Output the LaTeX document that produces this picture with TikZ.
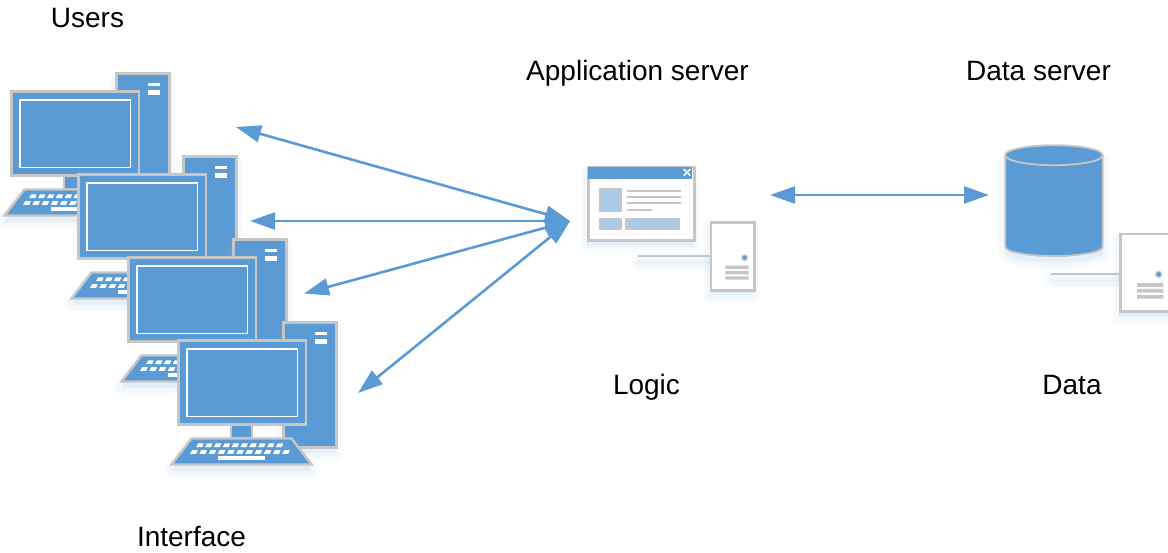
\documentclass[tikz,border=0pt]{standalone}
\usepackage{fontspec}
\setmainfont{Liberation Sans}
\usetikzlibrary{arrows.meta}
\definecolor{mblue}{HTML}{5B9BD5}
\definecolor{lblue}{HTML}{ABCAE9}
\definecolor{mgray}{HTML}{C6C6C6}
\definecolor{sblue}{HTML}{9DC3E6}
\newcommand{\softshade}[1]{%
  \foreach \w in {15,12,9,6,3}{\path[draw=sblue,fill=sblue,opacity=.035,line width=\w pt,line join=round,yshift=-6pt] #1;}}
\tikzset{
  x=1pt,y=-1pt,
  label text/.style={font=\fontsize{28}{32}\selectfont,anchor=base,inner sep=0pt,text=black},
  blue part/.style={fill=mblue,draw=mgray,line width=2.4pt},
  white part/.style={fill=white,draw=mgray,line width=2.4pt},
  light part/.style={fill=lblue,draw=mgray,line width=1.8pt},
  gray rule/.style={draw=mgray,line width=1.8pt},
  key/.style={fill=white},
  link/.style={draw=mblue,line width=2.6pt,{Triangle[length=25pt,width=17pt]}-{Triangle[length=25pt,width=17pt]}},
  computer/.pic={
    \softshade{(105.6,-17.4) rectangle (158.4,107.4)}
    \softshade{(-6.5,124.5) -- (13.5,98.5) -- (113.5,98.5) -- (133.5,124.5) -- cycle}
    \path[blue part] (105.6,-17.4) rectangle (158.4,107.4);
    \fill[white] (137,-8.5) rectangle (149,-4.7);
    \fill[white] (137,-0.7) rectangle (149,3.7);
    \path[blue part] (52.8,85) rectangle (73.9,98);
    \path[blue part] (0.6,0.6) rectangle (127.9,84.4);
    \draw[white,line width=1.6pt] (9.1,8.8) rectangle (119.5,76.5);
    \path[blue part] (-6.5,124.5) -- (13.5,98.5) -- (113.5,98.5) -- (133.5,124.5) -- cycle;
    \foreach \i in {0,...,9}{
      \fill[key] ({20.2+\i*8.85},103.3) -- ({25.6+\i*8.85},103.3) -- ({24.2+\i*8.85},107) -- ({18.2+\i*8.85},107) -- cycle;}
    \foreach \i in {0,...,10}{
      \fill[key] ({14.2+\i*9.2},110) -- ({19.8+\i*9.2},110) -- ({18.2+\i*9.2},113.8) -- ({12.2+\i*9.2},113.8) -- cycle;}
    \fill[key] (39.7,116.4) rectangle (87,120.3);
  }
}
\begin{document}
\begin{tikzpicture}
\useasboundingbox (0,0) rectangle (1168,552);
\clip (0,0) rectangle (1168,552);

% computers, back to front
\pic (pc1) at (11,91) {computer};
\pic (pc2) at (78,174) {computer};
\pic (pc3) at (128,257) {computer};
\pic (pc4) at (178,340) {computer};

% application window
\softshade{(587.3,165.6) rectangle (693.4,239.4)}
\node[white part,minimum width=106.1pt,minimum height=73.8pt,inner sep=0pt,anchor=north west] (win) at (587.3,165.6) {};
\path[fill=mblue] (588.4,166.7) rectangle (692.3,179);
\draw[white,line width=1.4pt] (683.7,169) -- (690.3,175.6) (690.3,169) -- (683.7,175.6);
\path[light part] (600.2,188.6) rectangle (621.1,211.4);
\path[light part] (600.2,219.2) rectangle (621.1,229.1);
\path[light part] (626.2,219.2) rectangle (679.1,229.1);
\draw[gray rule] (627,190.7) -- (681,190.7) (627,197) -- (681,197) (627,203.3) -- (681,203.3) (627,210) -- (651.7,210);

% application server
\softshade{(709.6,221.3) rectangle (753.4,289.4)}
\softshade{(638.3,255.5) rectangle (709,256.5)}
\node[white part,minimum width=43.8pt,minimum height=68.1pt,inner sep=0pt,anchor=north west] (srvA) at (709.6,221.3) {};
\coordinate (srvAend) at (638.3,256);
\draw[gray rule] (srvAend) -- (srvAend -| srvA.west);
\fill[mgray] (744.7,257.7) circle (3.4pt);
\fill[mblue] (744.7,257.7) circle (2pt);
\fill[mgray] (725.3,265.7) rectangle (748.7,269) (725.3,271) rectangle (748.7,274.3) (725.3,276.4) rectangle (748.7,279.7);

% database cylinder
\softshade{(1005.2,155.2) -- (1005.2,246.7) arc[start angle=180,delta angle=-180,x radius=48.8pt,y radius=-9.4pt] -- (1102.8,155.2) -- cycle}
\path[blue part,line width=1.8pt] (1005.2,155.2) -- (1005.2,246.7) arc[start angle=180,delta angle=-180,x radius=48.8pt,y radius=-9.4pt] -- (1102.8,155.2) -- cycle;
\path[blue part,line width=1.8pt] (1054,155.2) ellipse[x radius=48.8pt,y radius=10pt];

% data server
\softshade{(1119.3,232.9) rectangle (1175,310.1)}
\softshade{(1051.3,273.8) rectangle (1118.7,274.8)}
\node[white part,minimum width=56pt,minimum height=77.2pt,inner sep=0pt,anchor=north west] (srvB) at (1119.3,232.9) {};
\coordinate (srvBend) at (1051.3,274.3);
\draw[gray rule] (srvBend) -- (srvBend -| srvB.west);
\fill[mgray] (1158.7,274.3) circle (3.6pt);
\fill[mblue] (1158.7,274.3) circle (2.2pt);
\fill[mgray] (1137,283.2) rectangle (1163.3,286.8) (1137,288.9) rectangle (1163.3,292.5) (1137,294.9) rectangle (1163.3,298.5);

% connectors
\coordinate (hub) at (570,221);
\coordinate (u1) at (236,127);
\coordinate (u2) at (250,221);
\coordinate (u3) at (304,293.5);
\coordinate (u4) at (358,393);
\coordinate (appR) at (770,195);
\coordinate (dataL) at (989,195);
\draw[link] (hub) -- (u1);
\draw[link] (hub) -- (u2);
\draw[link] (hub) -- (u3);
\draw[link] (hub) -- (u4);
\draw[link] (appR) -- (dataL);

% labels
\node[label text] (tUsers) at (87.5,27) {Users};
\node[label text] (tApp) at (637.5,80) {Application server};
\node[label text] (tData) at (1038.5,80) {Data server};
\node[label text] (tLogic) at (646.5,394) {Logic};
\node[label text] (tDataB) at (1072,394) {Data};
\node[label text] (tIface) at (191.5,546) {Interface};
\end{tikzpicture}
\end{document}
